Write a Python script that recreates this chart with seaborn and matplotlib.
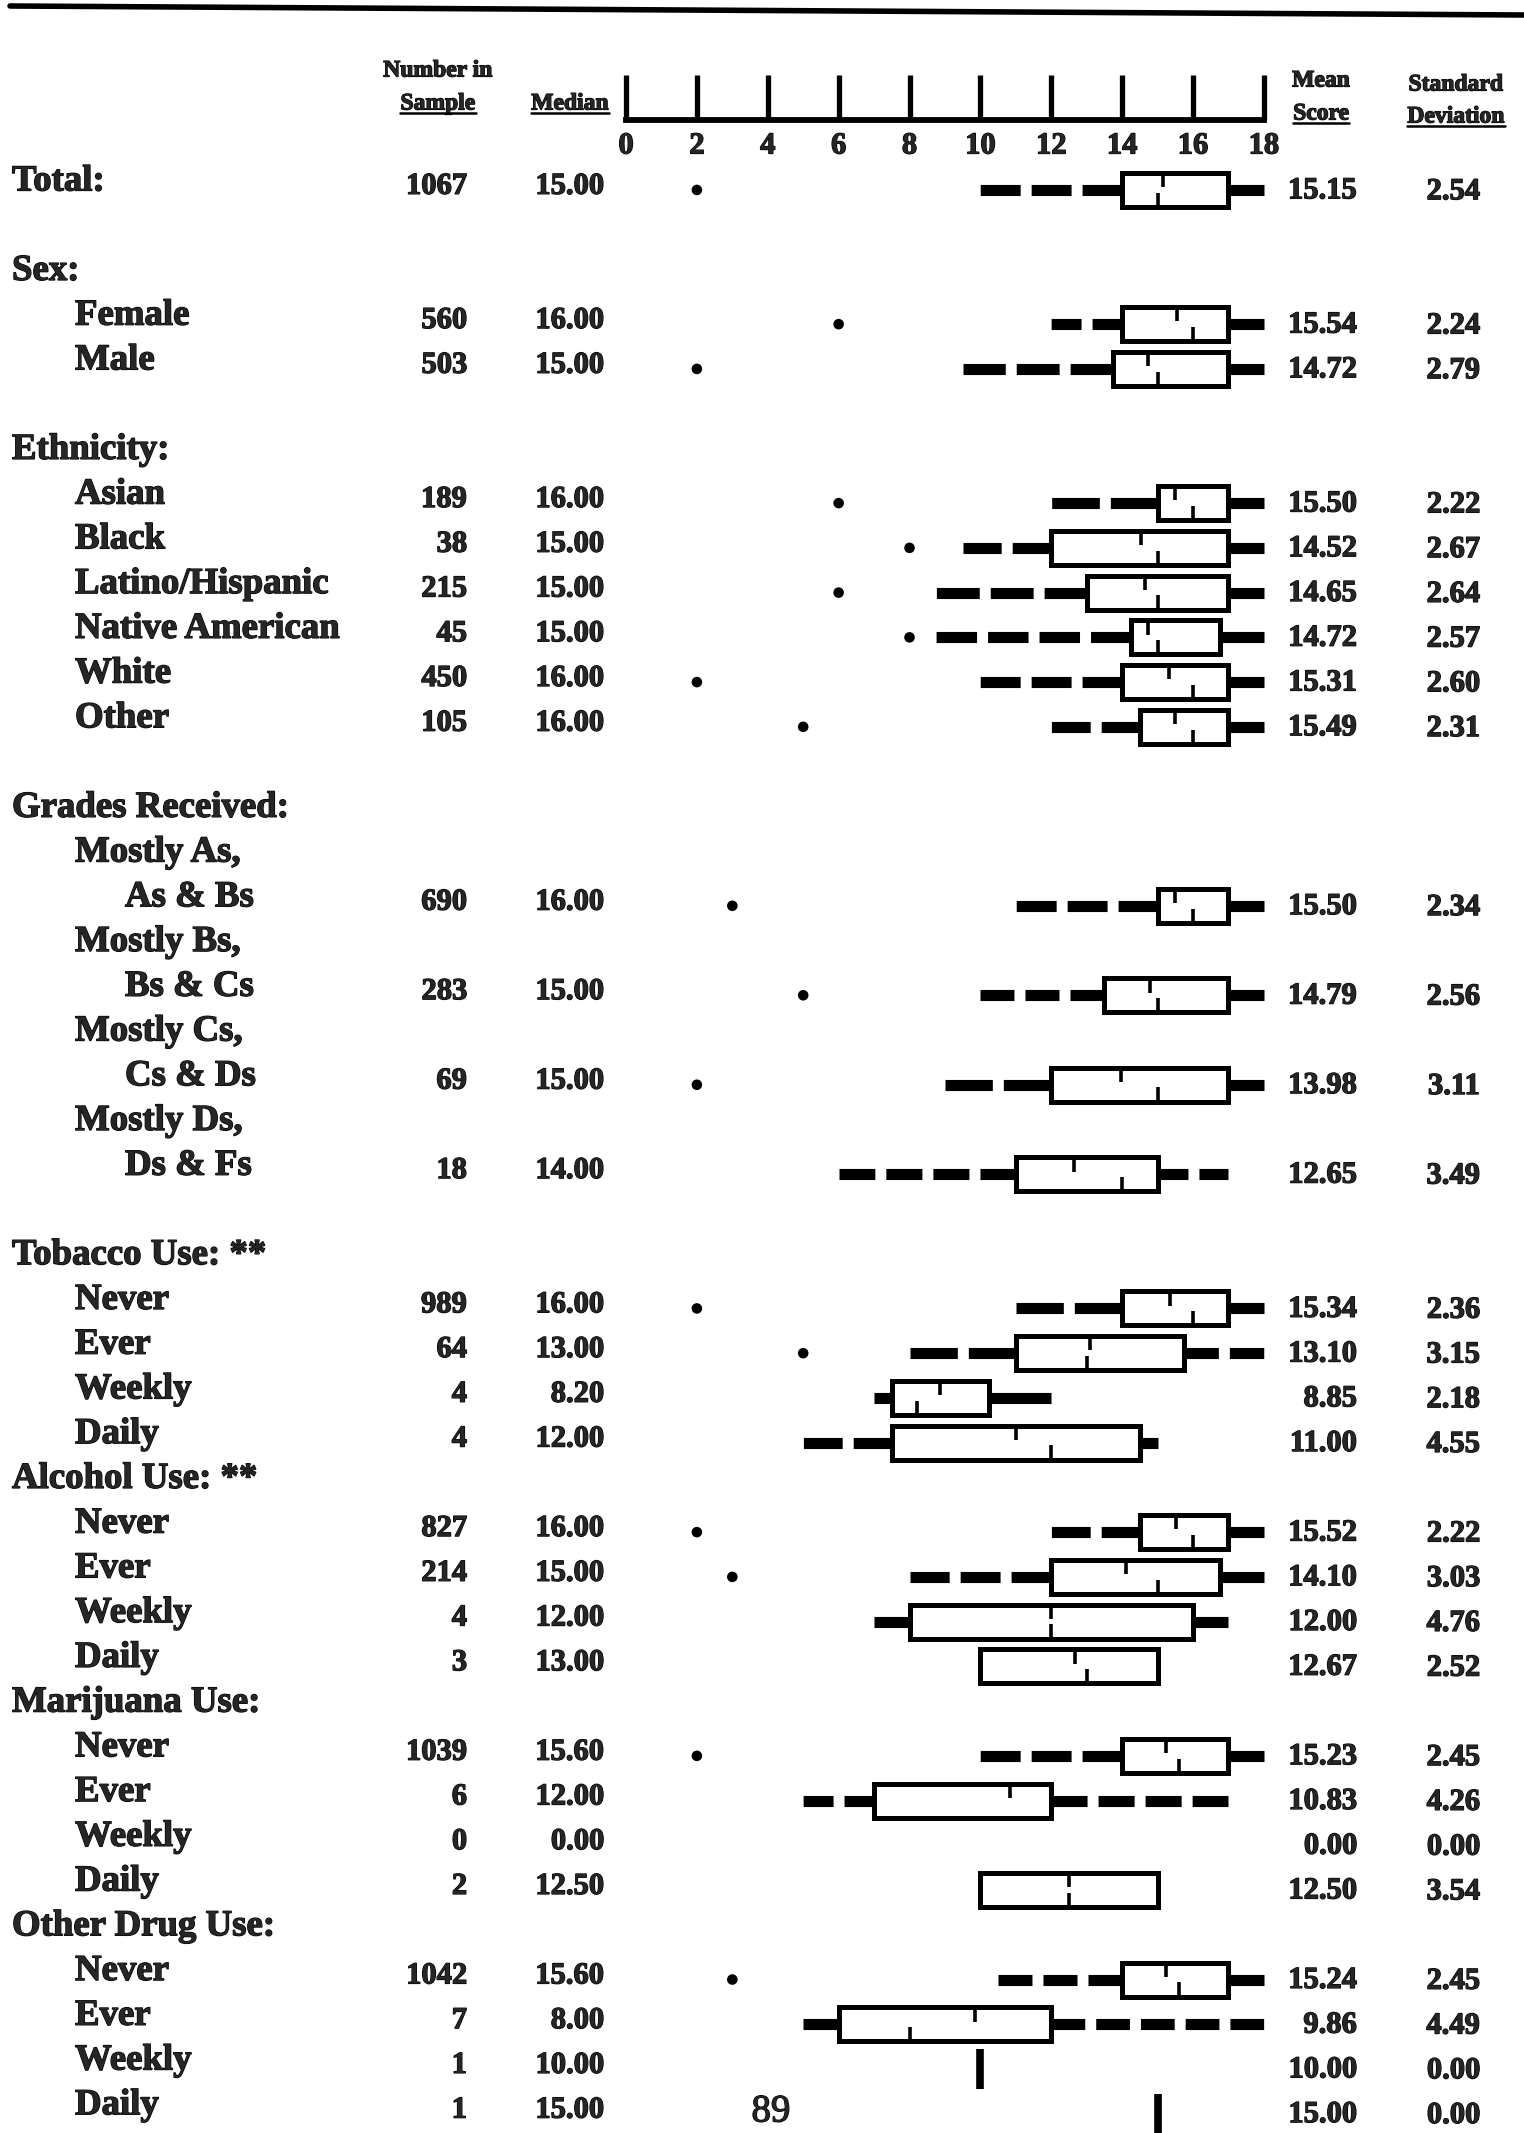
import numpy as np
import matplotlib.pyplot as plt
import matplotlib.patheffects as pe
import seaborn as sns
from matplotlib.lines import Line2D

group_names = ["Total:", "Sex:", "Ethnicity:", "Grades Received:",
               "Tobacco Use: **", "Alcohol Use: **", "Marijuana Use:", "Other Drug Use:"]
# a blank line sits above these section headers
blank_before = [False, True, True, True, True, False, False, False]

row_group = [0,
             1, 1,
             2, 2, 2, 2, 2, 2,
             3, 3, 3, 3,
             4, 4, 4, 4,
             5, 5, 5, 5,
             6, 6, 6, 6,
             7, 7, 7, 7]
# "|" splits a two-line label
row_labels = ["",
              "Female", "Male",
              "Asian", "Black", "Latino/Hispanic", "Native American", "White", "Other",
              "Mostly As,|As & Bs", "Mostly Bs,|Bs & Cs", "Mostly Cs,|Cs & Ds", "Mostly Ds,|Ds & Fs",
              "Never", "Ever", "Weekly", "Daily",
              "Never", "Ever", "Weekly", "Daily",
              "Never", "Ever", "Weekly", "Daily",
              "Never", "Ever", "Weekly", "Daily"]

n_sample = [1067, 560, 503, 189, 38, 215, 45, 450, 105, 690, 283, 69, 18,
            989, 64, 4, 4, 827, 214, 4, 3, 1039, 6, 0, 2, 1042, 7, 1, 1]
medians = [15.00, 16.00, 15.00, 16.00, 15.00, 15.00, 15.00, 16.00, 16.00,
           16.00, 15.00, 15.00, 14.00, 16.00, 13.00, 8.20, 12.00,
           16.00, 15.00, 12.00, 13.00, 15.60, 12.00, 0.00, 12.50,
           15.60, 8.00, 10.00, 15.00]
means = [15.15, 15.54, 14.72, 15.50, 14.52, 14.65, 14.72, 15.31, 15.49,
         15.50, 14.79, 13.98, 12.65, 15.34, 13.10, 8.85, 11.00,
         15.52, 14.10, 12.00, 12.67, 15.23, 10.83, 0.00, 12.50,
         15.24, 9.86, 10.00, 15.00]
std_devs = [2.54, 2.24, 2.79, 2.22, 2.67, 2.64, 2.57, 2.60, 2.31,
            2.34, 2.56, 3.11, 3.49, 2.36, 3.15, 2.18, 4.55,
            2.22, 3.03, 4.76, 2.52, 2.45, 4.26, 0.00, 3.54,
            2.45, 4.49, 0.00, 0.00]

# box plot pieces (None = not drawn)
low_dot = [2, 6, 2, 6, 8, 6, 8, 2, 5, 3, 5, 2, None,
           2, 5, None, None, 2, 3, None, None, 2, None, None, None, 3, None, None, None]
whisk_lo = [10, 12, 9.5, 12, 9.5, 8.75, 8.75, 10, 12, 11, 10, 9, 6,
            11, 8, 7, 5, 12, 8, 7, None, 10, 5, None, None, 10.5, 5, None, None]
box_q1 = [14, 14, 13.75, 15, 12, 13, 14.25, 14, 14.5, 15, 13.5, 12, 11,
          14, 11, 7.5, 7.5, 14.5, 12, 8, 10, 14, 7, None, 10, 14, 6, None, None]
box_q3 = [17, 17, 17, 17, 17, 17, 16.75, 17, 17, 17, 17, 17, 15,
          17, 15.75, 10.25, 14.5, 17, 16.75, 16, 15, 17, 12, None, 15, 17, 12, None, None]
whisk_hi = [18, 18, 18, 18, 18, 18, 18, 18, 18, 18, 18, 18, 17,
            18, 18, 12, 15, 18, 18, 17, None, 18, 17, None, None, 18, 18, None, None]

scale_ticks = [0, 2, 4, 6, 8, 10, 12, 14, 16, 18]

# --- Layout (pixel geometry of the page) ---
W, H = 1524, 2133
X0_PX, UNIT_PX = 626, 35.44      # score 0 sits at x=626, 35.44 px per point
Y0_PX, LINE_PX = 181, 44.74      # first text line centre, line pitch
DASH_ON, DASH_OFF = 36, 11       # whisker dash / gap, px

sns.set_theme(style='white')
plt.rcParams['font.family'] = ['Liberation Serif', 'DejaVu Serif']
plt.rcParams['lines.scale_dashes'] = False

# scanned print is heavy: thicken the glyphs a little
ink = [pe.withStroke(linewidth=0.9, foreground='black')]

fig = plt.figure(figsize=(W / 100, H / 100), dpi=100)
ax = fig.add_axes([0, 0, 1, 1])
tr = ax.get_yaxis_transform()    # x: page fraction, y: text line


def px(x):
    return x / W


def line_of(y_px):
    return (y_px - Y0_PX) / LINE_PX


# work out the text line of every label and every data row
label_lines = []
row_line = []
line = -1
for g, name in enumerate(group_names):
    if blank_before[g]:
        line += 1
    line += 1
    label_lines.append((name, line, 12))
    for i, gg in enumerate(row_group):
        if gg != g:
            continue
        lab = row_labels[i]
        if g == 0:
            row_line.append(line)
            continue
        if "|" in lab:
            first, second = lab.split("|")
            line += 1
            label_lines.append((first, line, 75))
            line += 1
            label_lines.append((second, line, 125))
        else:
            line += 1
            label_lines.append((lab, line, 75))
        row_line.append(line)

row_line = np.array(row_line, dtype=float)
box_y = row_line + 0.2
box_w = 0.76

# --- Labels and number columns ---
for text, ln, xp in label_lines:
    ax.text(px(xp), ln, text, transform=tr, fontsize=26.5, fontweight='bold',
            ha='left', va='center', path_effects=ink)

num_kw = dict(transform=tr, fontsize=22, fontweight='bold', ha='right', va='center',
              path_effects=ink)
for i in range(len(n_sample)):
    y = row_line[i] + 0.12
    ax.text(px(467), y, f"{n_sample[i]}", **num_kw)
    ax.text(px(604), y, f"{medians[i]:.2f}", **num_kw)
    ax.text(px(1357), row_line[i] + 0.22, f"{means[i]:.2f}", **num_kw)
    ax.text(px(1480), row_line[i] + 0.24, f"{std_devs[i]:.2f}", **num_kw)

# --- Column headers ---
header_kw = dict(transform=tr, fontsize=17, fontweight='bold', ha='center', va='center',
                 path_effects=ink)
ax.text(px(438), line_of(71), "Number in", **header_kw)
underlined = [
    ax.text(px(438), line_of(104), "Sample", **header_kw),
    ax.text(px(570), line_of(104), "Median", **header_kw),
    ax.text(px(1321), line_of(114), "Score", **header_kw),
    ax.text(px(1456), line_of(117), "Deviation", **header_kw),
]
ax.text(px(1321), line_of(81), "Mean", **header_kw)
ax.text(px(1456), line_of(85), "Standard", **header_kw)

# --- Score scale at the top ---
axis_y = line_of(120)
ax.hlines(axis_y, scale_ticks[0], scale_ticks[-1], color='black', lw=4.2, capstyle='projecting')
ax.vlines(scale_ticks, line_of(75), axis_y, color='black', lw=3.8)
for t in scale_ticks:
    ax.text(t, line_of(146), str(t), fontsize=22, fontweight='bold', ha='center', va='center',
            path_effects=ink)

# --- Box plots ---
stats, pos = [], []
for i in range(len(n_sample)):
    if box_q1[i] is None:
        continue
    stats.append(dict(med=medians[i], q1=box_q1[i], q3=box_q3[i],
                      whislo=np.nan if whisk_lo[i] is None else whisk_lo[i],
                      whishi=np.nan if whisk_hi[i] is None else whisk_hi[i],
                      fliers=[]))
    pos.append(box_y[i])

bxp_kw = dict(positions=pos, widths=box_w, patch_artist=True, showfliers=False,
              showcaps=False, manage_ticks=False,
              boxprops=dict(facecolor='white', edgecolor='black', linewidth=3.6, zorder=3),
              whiskerprops=dict(color='black', linewidth=8, linestyle='--',
                                dash_capstyle='butt', solid_capstyle='butt', zorder=2),
              medianprops=dict(linewidth=0))
try:
    parts = ax.bxp(stats, orientation='horizontal', **bxp_kw)
except TypeError:
    parts = ax.bxp(stats, vert=False, **bxp_kw)

# stretch each whisker's dashes so it ends on a whole dash, as on the printed chart
for wl in parts['whiskers']:
    xs = np.asarray(wl.get_xdata(), dtype=float)
    if np.isnan(xs).any():
        continue
    length = abs(xs[1] - xs[0]) * UNIT_PX
    k = max(1, int((length + DASH_OFF) / (DASH_ON + DASH_OFF) + 0.4))
    if k == 1:
        wl.set_linestyle('-')
    else:
        on = (length - (k - 1) * DASH_OFF) / k
        wl.set_dashes([on * 0.72, DASH_OFF * 0.72])

# mean tick hangs from the top edge, median tick rises from the bottom edge
has_box = [i for i in range(len(n_sample)) if box_q1[i] is not None]
top = box_y[has_box] - box_w / 2
bot = box_y[has_box] + box_w / 2
ax.vlines([means[i] for i in has_box], top, top + 0.42 * box_w, color='black', lw=2.6, zorder=4)
ax.vlines([medians[i] for i in has_box], bot - 0.42 * box_w, bot, color='black', lw=2.6, zorder=4)

# single respondents: one bar at the score
single = [i for i in range(len(n_sample)) if n_sample[i] == 1]
ax.vlines([means[i] for i in single], box_y[single] - 0.45, box_y[single] + 0.45,
          color='black', lw=5.5)

# lowest score dot
dots = [i for i in range(len(n_sample)) if low_dot[i] is not None]
sns.scatterplot(x=[low_dot[i] for i in dots], y=box_y[dots], ax=ax, color='black',
                s=58, edgecolor='none', legend=False, zorder=4)

ax.set_xlim(-X0_PX / UNIT_PX, (W - X0_PX) / UNIT_PX)
ax.set_ylim((H - Y0_PX) / LINE_PX, -Y0_PX / LINE_PX)
ax.axis('off')

# page number and the rule along the top edge
ax.text(px(771), line_of(2112), "89", transform=tr, fontsize=28, ha='center', va='center',
        path_effects=ink)
fig.add_artist(Line2D([px(10), 1.0], [1 - 6 / H, 1 - 15 / H], color='black', lw=4,
                      transform=fig.transFigure))

# underline the headers
fig.canvas.draw()
inv = fig.transFigure.inverted()
for t in underlined:
    bb = t.get_window_extent()
    (x0, y0), (x1, _) = inv.transform([(bb.x0, bb.y0 + 2), (bb.x1, bb.y0 + 2)])
    fig.add_artist(Line2D([x0, x1], [y0, y0], color='black', lw=1.8, transform=fig.transFigure))

fig.savefig('out.png', dpi=100)
